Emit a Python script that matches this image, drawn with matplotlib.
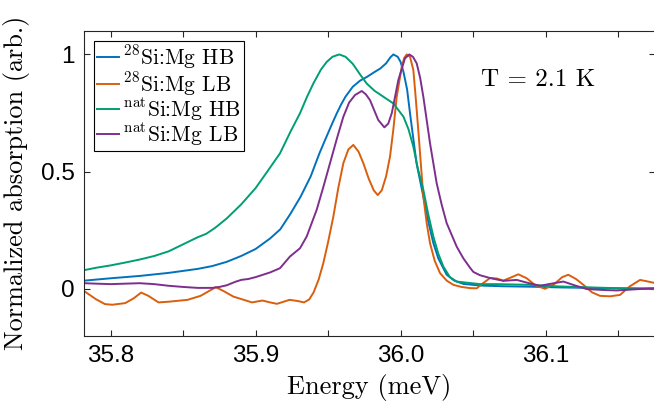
import matplotlib
matplotlib.use("Agg")
import matplotlib.pyplot as plt
from matplotlib.ticker import FixedLocator

# --------------------------
# Data
# --------------------------
e_si28_hb = [35.782, 35.80, 35.82, 35.84, 35.86, 35.87, 35.88, 35.89, 35.90, 35.91,
             35.917, 35.924, 35.931, 35.938, 35.944, 35.947, 35.950, 35.953, 35.956,
             35.959, 35.962, 35.967, 35.972, 35.977, 35.982, 35.986, 35.990, 35.993,
             35.995, 35.998, 36.000, 36.002, 36.0045, 36.0065, 36.009, 36.011,
             36.0135, 36.0157, 36.019, 36.0226, 36.026, 36.0318, 36.037, 36.0433,
             36.055, 36.07, 36.09, 36.11, 36.13, 36.15, 36.176]
a_si28_hb = [0.035, 0.045, 0.055, 0.068, 0.085, 0.097, 0.115, 0.14, 0.17, 0.215,
             0.254, 0.32, 0.393, 0.48, 0.578, 0.622, 0.665, 0.708, 0.749,
             0.787, 0.82, 0.862, 0.888, 0.905, 0.925, 0.94, 0.962, 0.988,
             1.0, 0.99, 0.968, 0.925, 0.85, 0.749, 0.63, 0.536,
             0.46, 0.393, 0.29, 0.195, 0.13, 0.06, 0.035, 0.021,
             0.014, 0.011, 0.009, 0.006, 0.004, 0.002, 0.001]

e_si28_lb = [35.782, 35.790, 35.796, 35.801, 35.810, 35.816, 35.821, 35.826, 35.833,
             35.840, 35.853, 35.862, 35.8725, 35.878, 35.8846, 35.8975, 35.9047,
             35.910, 35.9147, 35.9234, 35.929, 35.9334, 35.937, 35.940, 35.9435,
             35.9467, 35.950, 35.9536, 35.957, 35.9605, 35.964, 35.9674, 35.971,
             35.9743, 35.978, 35.9815, 35.9842, 35.987, 35.990, 35.9927, 35.995,
             35.9973, 36.0008, 36.0025, 36.0042, 36.0065, 36.0088, 36.0105, 36.0122,
             36.014, 36.0157, 36.018, 36.0203, 36.0235, 36.0272, 36.0318, 36.0364,
             36.042, 36.0479, 36.0525, 36.056, 36.0617, 36.0665, 36.0709, 36.076,
             36.0812, 36.087, 36.093, 36.0996, 36.106, 36.1115, 36.1157, 36.121,
             36.1261, 36.132, 36.1376, 36.1445, 36.1514, 36.158, 36.1652, 36.170,
             36.176]
a_si28_lb = [-0.011, -0.045, -0.065, -0.068, -0.061, -0.04, -0.016, -0.03, -0.058,
             -0.055, -0.047, -0.03, 0.007, -0.01, -0.033, -0.058, -0.050,
             -0.058, -0.064, -0.047, -0.052, -0.058, -0.045, -0.015, 0.04,
             0.11, 0.2, 0.308, 0.43, 0.536, 0.595, 0.614, 0.585,
             0.536, 0.47, 0.42, 0.40, 0.42, 0.48, 0.564, 0.68,
             0.819, 0.947, 0.985, 1.0, 0.99, 0.933, 0.81, 0.677,
             0.53, 0.393, 0.28, 0.195, 0.12, 0.067, 0.035, 0.017,
             0.008, 0.003, 0.002, 0.02, 0.046, 0.044, 0.035, 0.048,
             0.062, 0.045, 0.015, 0.0, 0.02, 0.05, 0.06, 0.042,
             0.017, -0.015, -0.03, -0.032, -0.026, 0.01, 0.038, 0.032,
             0.024]

e_nat_hb = [35.782, 35.79, 35.80, 35.81, 35.82, 35.83, 35.84, 35.85, 35.86, 35.866,
            35.872, 35.88, 35.89, 35.90, 35.908, 35.9168, 35.924, 35.9306, 35.9355,
            35.9398, 35.945, 35.949, 35.953, 35.9577, 35.962, 35.967, 35.972, 35.9766,
            35.982, 35.988, 35.995, 36.002, 36.0055, 36.0088, 36.012, 36.0157, 36.019,
            36.0226, 36.026, 36.0295, 36.034, 36.0387, 36.0548, 36.0663, 36.0893,
            36.11, 36.1468, 36.176]
a_nat_hb = [0.08, 0.09, 0.10, 0.112, 0.125, 0.14, 0.16, 0.19, 0.22, 0.235,
            0.26, 0.30, 0.36, 0.43, 0.50, 0.578, 0.67, 0.749, 0.82,
            0.876, 0.935, 0.968, 0.99, 1.0, 0.99, 0.96, 0.915, 0.876,
            0.845, 0.82, 0.791, 0.734, 0.68, 0.606, 0.51, 0.422, 0.32,
            0.223, 0.15, 0.095, 0.05, 0.031, 0.02, 0.02, 0.017,
            0.01, 0.003, 0.0]

e_nat_lb = [35.782, 35.79, 35.80, 35.81, 35.82, 35.83, 35.84, 35.85, 35.86, 35.87,
            35.875, 35.88, 35.886, 35.89, 35.895, 35.90, 35.905, 35.91, 35.9168,
            35.9237, 35.9306, 35.9352, 35.9421, 35.9465, 35.9513, 35.956, 35.9605,
            35.9645, 35.9686, 35.9732, 35.976, 35.9789, 35.9846, 35.9888, 35.9915,
            35.9939, 35.9962, 35.9984, 36.003, 36.006, 36.0085, 36.0111, 36.0135,
            36.0157, 36.018, 36.0203, 36.0249, 36.0283, 36.0318, 36.0387, 36.0433,
            36.0479, 36.0502, 36.0548, 36.0617, 36.0709, 36.0801, 36.088, 36.0962,
            36.104, 36.1123, 36.12, 36.1284, 36.14, 36.1491, 36.162, 36.176]
a_nat_lb = [0.024, 0.022, 0.02, 0.022, 0.024, 0.02, 0.013, 0.008, 0.004, 0.004,
            0.008, 0.015, 0.03, 0.038, 0.042, 0.05, 0.06, 0.07, 0.088,
            0.138, 0.173, 0.223, 0.337, 0.43, 0.536, 0.64, 0.734,
            0.795, 0.827, 0.844, 0.83, 0.805, 0.72, 0.689, 0.705,
            0.749, 0.82, 0.89, 0.983, 1.0, 0.99, 0.962, 0.9,
            0.819, 0.72, 0.621, 0.45, 0.36, 0.28, 0.18, 0.13,
            0.09, 0.072, 0.058, 0.046, 0.034, 0.038, 0.025, 0.013,
            0.022, 0.031, 0.015, -0.001, -0.005, -0.007, -0.002, 0.003]

series = [
    (e_si28_hb, a_si28_hb, r"$^{28}$Si:Mg HB", "#0072BD"),
    (e_si28_lb, a_si28_lb, r"$^{28}$Si:Mg LB", "#D95F0E"),
    (e_nat_hb, a_nat_hb, r"$^{\mathrm{nat}}$Si:Mg HB", "#009E73"),
    (e_nat_lb, a_nat_lb, r"$^{\mathrm{nat}}$Si:Mg LB", "#7E2F8E"),
]

# --------------------------
# Plot
# --------------------------
plt.rcParams["mathtext.fontset"] = "cm"
plt.rcParams["axes.unicode_minus"] = False
SERIF = "cmr10"
SANS = ["Liberation Sans", "DejaVu Sans"]

fig = plt.figure(figsize=(6.54, 4.04), dpi=100)
ax = fig.add_axes([84.3 / 654, 68.3 / 404, 570.7 / 654, 304.7 / 404])

for e, a, lab, col in series:
    ax.plot(e, a, color=col, lw=1.4, label=lab)

ax.set_xlim(35.7818, 36.1755)
ax.set_ylim(-0.2, 1.1)

ax.xaxis.set_major_locator(FixedLocator([35.8, 35.9, 36.0, 36.1]))
ax.xaxis.set_minor_locator(FixedLocator([35.85, 35.95, 36.05, 36.15]))
ax.set_xticklabels(["35.8", "35.9", "36.0", "36.1"])
ax.set_yticks([0, 0.5, 1])
ax.set_yticklabels(["0", "0.5", "1"])

ax.tick_params(which="both", direction="in", top=True, right=True,
               length=4.3, width=0.8, color="#262626")
ax.tick_params(labelsize=17.5, pad=7)
for lbl in ax.get_xticklabels() + ax.get_yticklabels():
    lbl.set_family(SANS)
for sp in ax.spines.values():
    sp.set_linewidth(0.8)
    sp.set_color("#262626")

ax.set_xlabel("Energy (meV)", family=SERIF, fontsize=19, labelpad=5)
ax.set_ylabel("Normalized absorption (arb.)", family=SERIF, fontsize=18.9, labelpad=8)

ax.text(0.6946, 0.8205, "T = 2.1 K", transform=ax.transAxes,
        family=SERIF, fontsize=18, ha="left", va="baseline")

leg = ax.legend(loc="upper left", bbox_to_anchor=(0.017, 0.967), borderaxespad=0,
                fancybox=False, edgecolor="black", framealpha=1,
                prop={"family": SERIF, "size": 15.5},
                handlelength=1.05, handletextpad=0.2, borderpad=0.12,
                labelspacing=-0.06)
leg.get_frame().set_linewidth(0.8)

plt.savefig("out.png", dpi=100)
